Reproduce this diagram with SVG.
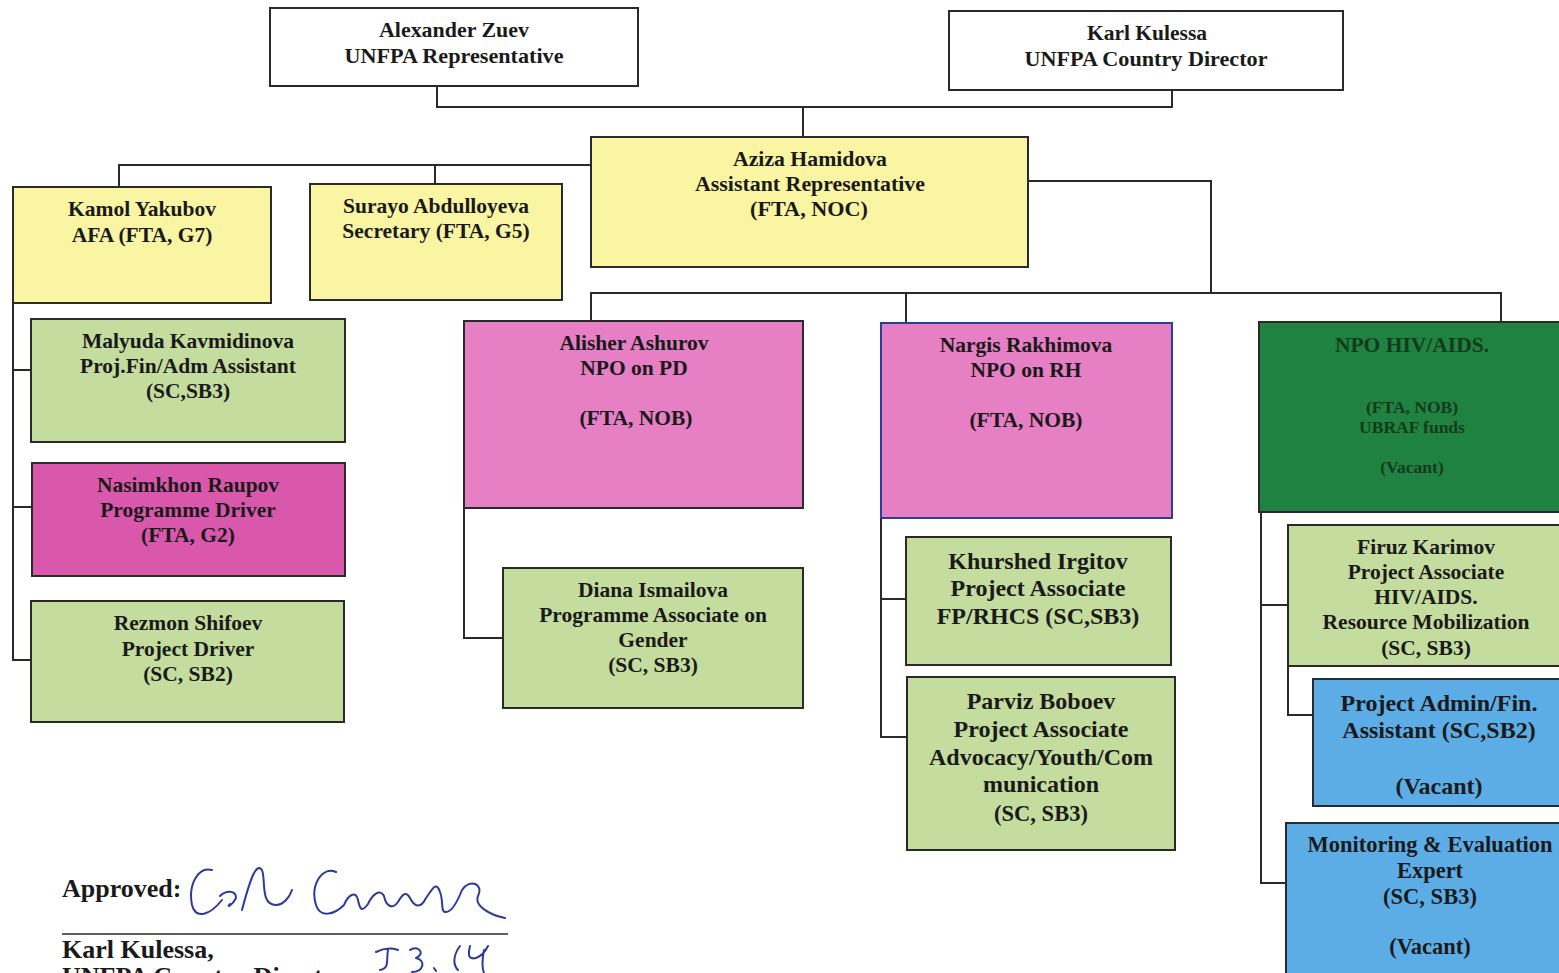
<svg xmlns="http://www.w3.org/2000/svg" width="1559" height="973" viewBox="0 0 1559 973">
<style>
rect{stroke:#2a2a2a;stroke-width:2}
.w{fill:#ffffff}
.y{fill:#f9f5a2}
.g{fill:#c4dc9e}
.m{fill:#d958ac}
.p{fill:#e67fc4}
.dg{fill:#1f8240}
.b{fill:#5cade6}
text{font-family:"Liberation Serif","Times New Roman",serif;font-weight:bold;fill:#1a1a1a;text-anchor:middle;font-size:21.5px}
.c{font-size:22.5px}
.l{font-size:24px}
.s{font-size:17.5px;fill:#123a1c}
.h{font-size:21.5px;fill:#123a1c}
.conn path{fill:none;stroke:#2a2a2a;stroke-width:2}
.sig{fill:none;stroke:#2b3a9c;stroke-width:2;stroke-linecap:round;stroke-linejoin:round}
</style>
<rect x="0" y="0" width="1559" height="973" fill="#ffffff" style="stroke:none"/>
<g class="conn" id="connectors">
<path d="M437 86 V107 H1172 V90"/>
<path d="M803 107 V137"/>
<path d="M591 165 H119 V187"/>
<path d="M435 165 V184"/>
<path d="M13 303 V660 H31"/>
<path d="M13 370 H31"/>
<path d="M13 507 H32"/>
<path d="M1028 181 H1211 V294"/>
<path d="M591 321 V293 H1501 V322"/>
<path d="M906 293 V323"/>
<path d="M464 508 V638 H503"/>
<path d="M881 518 V737 H907"/>
<path d="M881 599 H906"/>
<path d="M1261 512 V883 H1286"/>
<path d="M1261 605 H1288"/>
<path d="M1288 666 V715 H1313"/>
</g>
<g id="alexander">
<rect class="w" x="270" y="8" width="368" height="78"/>
<text x="454" y="37" textLength="150" lengthAdjust="spacingAndGlyphs">Alexander Zuev</text>
<text x="454" y="63" textLength="219" lengthAdjust="spacingAndGlyphs">UNFPA Representative</text>
</g>
<g id="karl">
<rect class="w" x="949" y="11" width="394" height="79"/>
<text x="1147" y="40" textLength="120" lengthAdjust="spacingAndGlyphs">Karl Kulessa</text>
<text x="1146" y="66" textLength="243" lengthAdjust="spacingAndGlyphs">UNFPA Country Director</text>
</g>
<g id="aziza">
<rect class="y" x="591" y="137" width="437" height="130"/>
<text x="810" y="166" textLength="154" lengthAdjust="spacingAndGlyphs">Aziza Hamidova</text>
<text x="810" y="191" textLength="230" lengthAdjust="spacingAndGlyphs">Assistant Representative</text>
<text x="809" y="216" textLength="118" lengthAdjust="spacingAndGlyphs">(FTA, NOC)</text>
</g>
<g id="kamol">
<rect class="y" x="13" y="187" width="258" height="116"/>
<text x="142" y="216">Kamol Yakubov</text>
<text x="142" y="242">AFA (FTA, G7)</text>
</g>
<g id="surayo">
<rect class="y" x="310" y="184" width="252" height="116"/>
<text x="436" y="213">Surayo Abdulloyeva</text>
<text x="436" y="238">Secretary (FTA, G5)</text>
</g>
<g id="malyuda">
<rect class="g" x="31" y="319" width="314" height="123"/>
<text x="188" y="348">Malyuda Kavmidinova</text>
<text x="188" y="373">Proj.Fin/Adm Assistant</text>
<text x="188" y="398">(SC,SB3)</text>
</g>
<g id="nasimkhon">
<rect class="m" x="32" y="463" width="313" height="113"/>
<text x="188" y="492">Nasimkhon Raupov</text>
<text x="188" y="517">Programme Driver</text>
<text x="188" y="542">(FTA, G2)</text>
</g>
<g id="rezmon">
<rect class="g" x="31" y="601" width="313" height="121"/>
<text x="188" y="630">Rezmon Shifoev</text>
<text x="188" y="656">Project Driver</text>
<text x="188" y="681">(SC, SB2)</text>
</g>
<g id="alisher">
<rect class="p" x="464" y="321" width="339" height="187"/>
<text x="634" y="350">Alisher Ashurov</text>
<text x="634" y="375">NPO on PD</text>
<text x="636" y="425">(FTA, NOB)</text>
</g>
<g id="diana">
<rect class="g" x="503" y="568" width="300" height="140"/>
<text x="653" y="597">Diana Ismailova</text>
<text x="653" y="622">Programme Associate on</text>
<text x="653" y="647">Gender</text>
<text x="653" y="672">(SC, SB3)</text>
</g>
<g id="nargis">
<rect class="p" x="881" y="323" width="291" height="195" style="stroke:#2b3f9a"/>
<text x="1026" y="352">Nargis Rakhimova</text>
<text x="1026" y="377">NPO on RH</text>
<text x="1026" y="427">(FTA, NOB)</text>
</g>
<g id="khurshed">
<rect class="g" x="906" y="537" width="265" height="128"/>
<text class="l" x="1038" y="569">Khurshed Irgitov</text>
<text class="l" x="1038" y="596">Project Associate</text>
<text class="l" x="1038" y="624">FP/RHCS (SC,SB3)</text>
</g>
<g id="parviz">
<rect class="g" x="907" y="677" width="268" height="173"/>
<text class="l" x="1041" y="709">Parviz Boboev</text>
<text class="l" x="1041" y="737">Project Associate</text>
<text class="l" x="1041" y="765">Advocacy/Youth/Com</text>
<text class="l" x="1041" y="792">munication</text>
<text class="c" x="1041" y="821">(SC, SB3)</text>
</g>
<g id="npo-hiv">
<rect class="dg" x="1259" y="322" width="310" height="190"/>
<text class="h" x="1412" y="352">NPO HIV/AIDS.</text>
<text class="s" x="1412" y="413">(FTA, NOB)</text>
<text class="s" x="1412" y="433">UBRAF funds</text>
<text class="s" x="1412" y="473">(Vacant)</text>
</g>
<g id="firuz">
<rect class="g" x="1288" y="525" width="281" height="141"/>
<text x="1426" y="554">Firuz Karimov</text>
<text x="1426" y="579">Project Associate</text>
<text x="1426" y="604">HIV/AIDS.</text>
<text x="1426" y="629">Resource Mobilization</text>
<text x="1426" y="655">(SC, SB3)</text>
</g>
<g id="project-admin">
<rect class="b" x="1313" y="679" width="256" height="127"/>
<text class="l" x="1439" y="711">Project Admin/Fin.</text>
<text class="l" x="1439" y="738">Assistant (SC,SB2)</text>
<text class="l" x="1439" y="794">(Vacant)</text>
</g>
<g id="m-and-e">
<rect class="b" x="1286" y="823" width="283" height="160"/>
<text class="c" x="1430" y="852">Monitoring &amp; Evaluation</text>
<text class="c" x="1430" y="878">Expert</text>
<text class="c" x="1430" y="904">(SC, SB3)</text>
<text class="c" x="1430" y="954">(Vacant)</text>
</g>
<g id="approval">
<text x="62" y="897" style="text-anchor:start;font-size:26px">Approved:</text>
<path class="sig" d="M212 870 C198 866 188 885 192 905 C196 920 210 915 222 900 M220 896 C226 890 236 890 236 898 C232 906 226 908 230 904 M242 910 C250 880 256 862 262 870 C266 880 260 905 276 905 C284 905 290 896 292 890 M336 872 C322 866 310 885 316 905 C320 918 334 915 344 905 C348 895 356 890 358 900 C360 910 362 912 368 904 C372 895 380 888 384 896 C386 906 392 910 398 902 C402 895 406 890 410 898 C414 906 420 910 426 898 C432 890 436 880 440 892 C444 902 440 912 446 912 C452 912 458 900 462 890 C470 878 484 884 478 896 C474 906 490 915 505 918"/>
<path d="M62 934 H508" stroke="#2a2a2a" stroke-width="1.5" fill="none"/>
<text x="62" y="958" style="text-anchor:start;font-size:26px">Karl Kulessa,</text>
<text x="62" y="985" style="text-anchor:start;font-size:26px">UNFPA Country Director</text>
<path class="sig" d="M376 952 C384 948 392 948 398 950 M388 950 C386 960 390 968 380 970 M410 950 C418 944 426 954 416 958 C426 960 424 972 412 972 M434 968 L436 971 M460 946 C454 954 452 964 458 970 M470 946 C468 954 468 960 476 958 C482 956 486 950 488 946 M484 950 C482 960 482 968 484 973"/>
</g>
</svg>
